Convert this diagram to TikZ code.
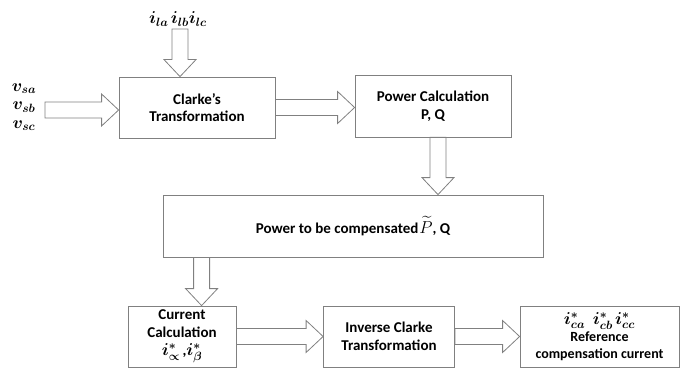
\documentclass[tikz,border=0pt]{standalone}
\usepackage{amsmath, amssymb}
\usepackage{bm}
\usepackage{fontspec}
\setmainfont{Carlito}
\usetikzlibrary{calc}

\tikzset{
  block/.style={draw=black!50, line width=0.8pt, align=center, inner sep=2pt},
  blockline/.style={draw=black!50, line width=0.8pt},
}
\newcommand{\mbig}[1]{{\fontsize{17}{17}\selectfont$\bm{#1}$}}
\newcommand{\rightblock}[2]{%
  \draw[blockline] ($(#1)+(0,-8)$) -- ($(#2)+(-17,-8)$) -- ($(#2)+(-17,-16)$) -- (#2)
    -- ($(#2)+(-17,16)$) -- ($(#2)+(-17,8)$) -- ($(#1)+(0,8)$) -- cycle;}
\newcommand{\downblock}[2]{%
  \draw[blockline] ($(#1)+(-8,0)$) -- ($(#2)+(-8,-17)$) -- ($(#2)+(-16,-17)$) -- (#2)
    -- ($(#2)+(16,-17)$) -- ($(#2)+(8,-17)$) -- ($(#1)+(8,0)$) -- cycle;}

\begin{document}
\begin{tikzpicture}[x=1pt, y=-1pt, font=\fontsize{15}{17.5}\selectfont\bfseries]
\useasboundingbox (0,0) rectangle (689,369);

\node[block, minimum width=156, minimum height=61] (clarke) at (197,107.5) {Clarke's\\Transformation};
\node[block, minimum width=156, minimum height=62] (pc) at (433,106) {Power Calculation\\P, Q};
\node[block, minimum width=380, minimum height=62] (ptc) at (353,226) {Power to be compensated\hspace{1pt}{\fontsize{17}{17}\selectfont$\widetilde{P}$}, Q};
\node[block, minimum width=108, minimum height=61, inner sep=1pt, font=\fontsize{15}{18}\selectfont\bfseries] (cc) at (182,336.5) {Current\\Calculation\\\mbig{i^{*}_{\propto}}\,,\mbig{i^{*}_{\beta}}};
\node[block, minimum width=131, minimum height=61] (ic) at (389,336.5) {Inverse Clarke\\Transformation};
\node[block, minimum width=159, minimum height=61, inner sep=1pt, font=\fontsize{14}{17}\selectfont\bfseries] (ref) at (599.5,336.5) {\mbig{i^{*}_{ca}}\;\;\mbig{i^{*}_{cb}}\,\mbig{i^{*}_{cc}}\\Reference\\compensation current};

\node (il) at (178,19) {\mbig{i_{la}}\,\mbig{i_{lb}}\mbig{i_{lc}}};
\node[align=center, font=\fontsize{15}{18.5}\selectfont] (vs) at (24,107) {\mbig{v_{sa}}\\\mbig{v_{sb}}\\\mbig{v_{sc}}};

\coordinate (vin) at (45,110);
\coordinate (iin) at (180,29);
\coordinate (pcout) at ($(pc.south)+(5,0)$);
\coordinate (ptcout) at ($(ptc.south west)+(39,0)$);

\rightblock{vin}{vin -| clarke.west}
\downblock{iin}{iin |- clarke.north}
\rightblock{clarke.east}{clarke.east -| pc.west}
\downblock{pcout}{pcout |- ptc.north}
\downblock{ptcout}{ptcout |- cc.north}
\rightblock{cc.east}{cc.east -| ic.west}
\rightblock{ic.east}{ic.east -| ref.west}
\end{tikzpicture}
\end{document}
